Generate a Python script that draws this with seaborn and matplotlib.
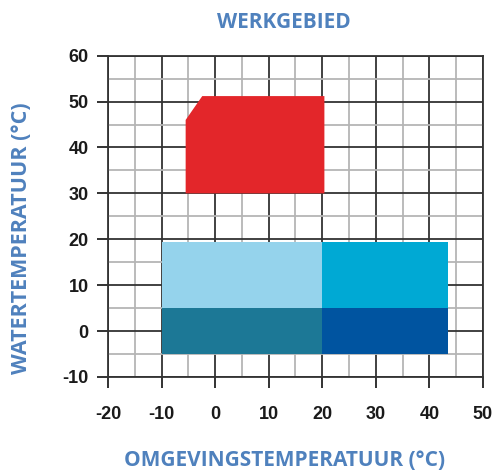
import matplotlib.pyplot as plt
import seaborn as sns
from matplotlib.ticker import MultipleLocator

# heating zone outline (red)
heat_x = [-5.5, -2.4, 20.4, 20.4, -5.5]
heat_y = [46, 51.2, 51.2, 30, 30]

# cooling zones (blue rectangles)
cool_x0 = [-10, -10, 20, 20]
cool_x1 = [20, 20, 43.5, 43.5]
cool_y0 = [5, -5, 5, -5]
cool_y1 = [19.3, 5, 19.3, 5]
cool_colors = ['#95d3ec', '#1c7896', '#00a9d4', '#0054a0']

x_ticks = [-20, -10, 0, 10, 20, 30, 40, 50]
y_ticks = [-10, 0, 10, 20, 30, 40, 50, 60]

sns.set_style("white")
plt.rcParams['axes.unicode_minus'] = False
label_blue = '#4f81bd'
tick_font = ['Liberation Sans Narrow', 'Liberation Sans', 'DejaVu Sans']
title_font = ['Open Sans', 'DejaVu Sans']

fig = plt.figure(figsize=(4.96, 4.70), dpi=100)
ax = fig.add_axes([0.2177, 0.198, 0.756, 0.6835])

ax.fill(heat_x, heat_y, color='#e3262a', lw=0, zorder=3)
for x0, x1, y0, y1, c in zip(cool_x0, cool_x1, cool_y0, cool_y1, cool_colors):
    ax.fill_between([x0, x1], y0, y1, color=c, lw=0, zorder=3)

ax.set_xlim(x_ticks[0], x_ticks[-1])
ax.set_ylim(y_ticks[0], y_ticks[-1])
ax.set_xticks(x_ticks)
ax.set_yticks(y_ticks)
ax.xaxis.set_minor_locator(MultipleLocator(5))
ax.yaxis.set_minor_locator(MultipleLocator(5))
ax.grid(which='major', color='#333333', lw=1.3, zorder=1)
ax.grid(which='minor', color='#b5b5b5', lw=1.3, zorder=0)
ax.set_axisbelow(True)
ax.tick_params(which='major', direction='out', length=8, width=1.3, color='#222222',
               left=True, bottom=True)
ax.tick_params(axis='x', pad=13)
ax.tick_params(axis='y', pad=6)
ax.tick_params(which='minor', length=0)
for s in ax.spines.values():
    s.set_color('#333333')
    s.set_linewidth(1.3)

for lab in ax.get_xticklabels() + ax.get_yticklabels():
    lab.set_family(tick_font)
    lab.set_fontweight('bold')
    lab.set_fontsize(13)
    lab.set_color('#1a1a1a')

fig.text(0.573, 0.953, 'WERKGEBIED', ha='center', va='center', color=label_blue,
         fontsize=15, fontweight='bold', family=title_font)
fig.text(0.573, 0.021, 'OMGEVINGSTEMPERATUUR (°C)', ha='center', va='center',
         color=label_blue, fontsize=15, fontweight='bold', family=title_font)
fig.text(0.044, 0.494, 'WATERTEMPERATUUR (°C)', ha='center', va='center', rotation=90,
         color=label_blue, fontsize=15.5, fontweight='bold', family=title_font)

fig.savefig('out.png', dpi=100)
